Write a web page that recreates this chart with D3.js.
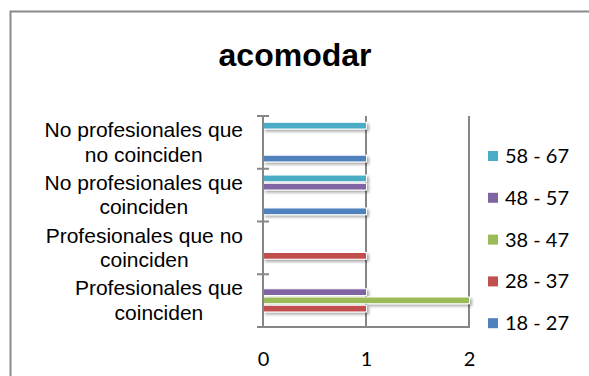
<!DOCTYPE html>
<html>
<head>
<meta charset="utf-8">
<script src="https://cdn.jsdelivr.net/npm/d3@7"></script>
<style>
  html, body { margin: 0; padding: 0; background: #fff; }
  svg { display: block; }
</style>
</head>
<body>
<svg id="chart" width="589" height="376"></svg>
<script>
// Categories, listed bottom to top as they appear on the vertical axis
const categories = [
  "Profesionales que coinciden",
  "Profesionales que no coinciden",
  "No profesionales que coinciden",
  "No profesionales que no coinciden"
];
const categoryLines = [
  ["Profesionales que", "coinciden"],
  ["Profesionales que no", "coinciden"],
  ["No profesionales que", "coinciden"],
  ["No profesionales que", "no coinciden"]
];
// Age groups (series)
const seriesNames = ["18 - 27", "28 - 37", "38 - 47", "48 - 57", "58 - 67"];
const seriesColors = ["#4F81BD", "#C0504D", "#9BBB59", "#8064A2", "#4BACC6"];
// Values per series, in category order
const v18_27 = [0, 0, 1, 1];
const v28_37 = [1, 1, 0, 0];
const v38_47 = [2, 0, 0, 0];
const v48_57 = [1, 0, 1, 0];
const v58_67 = [0, 0, 1, 1];
const seriesValues = [v18_27, v28_37, v38_47, v48_57, v58_67];
const xTicks = [0, 1, 2];

const svg = d3.select("#chart");

// drop shadow for bars
const defs = svg.append("defs");
const f = defs.append("filter").attr("id", "shadow")
  .attr("x", "-10%").attr("y", "-60%").attr("width", "130%").attr("height", "260%");
f.append("feGaussianBlur").attr("in", "SourceAlpha").attr("stdDeviation", 1.6).attr("result", "b");
f.append("feOffset").attr("in", "b").attr("dx", 1.5).attr("dy", 2).attr("result", "o");
f.append("feComponentTransfer").attr("in", "o").attr("result", "s")
  .append("feFuncA").attr("type", "linear").attr("slope", 0.35);
const fm = f.append("feMerge");
fm.append("feMergeNode").attr("in", "s");
fm.append("feMergeNode").attr("in", "SourceGraphic");

// chart frame
svg.append("rect")
  .attr("x", 10.5).attr("y", 11.5).attr("width", 620).attr("height", 420)
  .attr("fill", "#fff").attr("stroke", "#8a8a8a").attr("stroke-width", 2);

// title
svg.append("text")
  .attr("x", 295).attr("y", 66)
  .attr("text-anchor", "middle")
  .style("font-family", "'Liberation Sans', Arial, sans-serif")
  .style("font-weight", "bold").style("font-size", "32px")
  .text("acomodar");

const plot = { left: 263, right: 469, top: 116, bottom: 327 };

const x = d3.scaleLinear().domain([0, 2]).range([plot.left, plot.right]);
const y = d3.scaleBand().domain(categories)
  .range([plot.bottom, plot.top]).paddingInner(0).paddingOuter(0);
const inner = d3.scaleBand().domain(d3.range(seriesNames.length))
  .range([y.bandwidth() - 0.11 * y.bandwidth(), 0.11 * y.bandwidth()]);

const axisColor = "#868686";

// vertical gridlines
svg.append("g").selectAll("line").data(xTicks.filter(t => t > 0)).join("line")
  .attr("x1", d => x(d)).attr("x2", d => x(d))
  .attr("y1", plot.top).attr("y2", plot.bottom)
  .attr("stroke", axisColor).attr("stroke-width", 2);

// bars
const barG = svg.append("g").attr("filter", "url(#shadow)");
categories.forEach((cat, ci) => {
  seriesValues.forEach((vals, si) => {
    const v = vals[ci];
    if (!v) return;
    const yTop = y(cat) + inner(si);
    barG.append("rect")
      .attr("x", x(0) + 0.5)
      .attr("y", yTop + 0.5)
      .attr("width", x(v) - x(0))
      .attr("height", inner.bandwidth() - 1.5)
      .attr("fill", seriesColors[si])
      .attr("stroke", "#fff").attr("stroke-width", 1);
  });
});

// x axis line and labels
const xAxis = d3.axisBottom(x).tickValues(xTicks).tickSize(0).tickPadding(25).tickFormat(d3.format("d"));
const gx = svg.append("g").attr("transform", `translate(0,${plot.bottom})`).call(xAxis);
gx.select(".domain").remove();
svg.append("line")
  .attr("x1", plot.left - 6).attr("x2", plot.right + 1)
  .attr("y1", plot.bottom).attr("y2", plot.bottom)
  .attr("stroke", axisColor).attr("stroke-width", 2);
gx.selectAll("text")
  .style("font-family", "Lato, 'Open Sans', sans-serif").style("font-size", "20px")
  .attr("fill", "#000");

// y axis with crossing tick marks at band boundaries
svg.append("line")
  .attr("x1", plot.left).attr("x2", plot.left)
  .attr("y1", plot.top).attr("y2", plot.bottom)
  .attr("stroke", axisColor).attr("stroke-width", 2);
const bounds = categories.map(c => y(c)).concat([plot.bottom]);
svg.append("g").selectAll("line").data(bounds).join("line")
  .attr("x1", plot.left - 6).attr("x2", plot.left + 6)
  .attr("y1", d => d).attr("y2", d => d)
  .attr("stroke", axisColor).attr("stroke-width", 2);

// category labels: each block centred on its widest line, right edge near the axis
const labelG = svg.append("g")
  .style("font-family", "'Liberation Sans', Arial, sans-serif")
  .style("font-size", "21px");
categories.forEach((cat, ci) => {
  const lines = categoryLines[ci];
  const t = labelG.append("text").attr("text-anchor", "middle").attr("fill", "#000");
  const cy = y(cat) + y.bandwidth() / 2;
  const lh = 24.5;
  lines.forEach((ln, li) => {
    t.append("tspan").attr("x", 0)
      .attr("y", cy + (li - (lines.length - 1) / 2) * lh + 7)
      .text(ln);
  });
  let maxW = 0;
  t.selectAll("tspan").each(function () { maxW = Math.max(maxW, this.getComputedTextLength()); });
  t.selectAll("tspan").attr("x", 243 - maxW / 2);
});

// legend, top entry is the last series
const legendG = svg.append("g");
const legendTop = 156, legendStep = 41.8;
seriesNames.slice().reverse().forEach((name, i) => {
  const si = seriesNames.length - 1 - i;
  const cy = legendTop + i * legendStep;
  legendG.append("rect")
    .attr("x", 488).attr("y", cy - 5).attr("width", 10).attr("height", 10)
    .attr("fill", seriesColors[si]);
  legendG.append("text")
    .attr("x", 505).attr("y", cy + 7)
    .style("font-family", "Lato, 'Open Sans', sans-serif").style("font-size", "20px")
    .attr("fill", "#000")
    .text(name);
});
</script>
</body>
</html>
